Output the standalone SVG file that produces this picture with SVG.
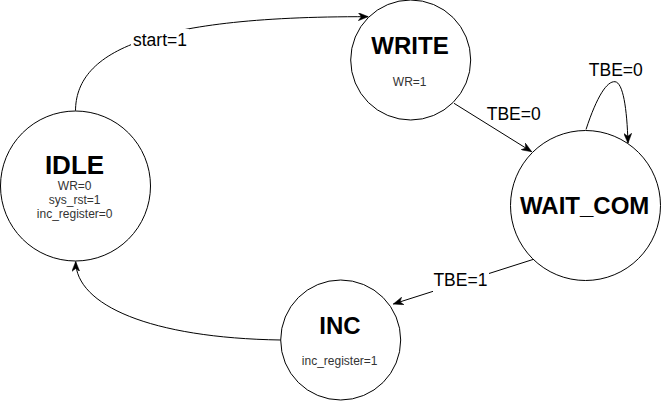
<svg xmlns="http://www.w3.org/2000/svg" width="661" height="401" viewBox="0 0 661 401">
  <style>
    .state { fill: #ffffff; stroke: #000000; stroke-width: 1; }
    .title { font-family: "Liberation Sans", Arial, sans-serif; font-weight: bold; font-size: 24px; fill: #000000; text-anchor: middle; }
    .sub { font-family: "Liberation Sans", Arial, sans-serif; font-size: 12px; fill: #333333; text-anchor: middle; }
    .edge { fill: none; stroke: #000000; stroke-width: 1; marker-end: url(#arrow); }
    .label { font-family: "Liberation Sans", Arial, sans-serif; font-size: 17.5px; fill: #000000; text-anchor: middle; }
    .lblbg { fill: #ffffff; stroke: none; }
  </style>
  <defs>
    <marker id="arrow" markerUnits="userSpaceOnUse" markerWidth="10" markerHeight="8" refX="10" refY="4" orient="auto" viewBox="0 0 10 8">
      <path d="M0,0 L10,4 L0,8 L3,4 z" fill="#000000" stroke="#000000" stroke-width="0.5" stroke-linejoin="miter"/>
    </marker>
  </defs>
  <rect x="0" y="0" width="661" height="401" fill="#ffffff"/>

  <g id="connectors">
    <g id="e-idle-write">
      <path class="edge" d="M75.5,110.7 C76,55 140,16 368.3,16.7"/>
      <rect class="lblbg" x="131" y="29" width="58" height="20"/>
      <text class="label" x="160" y="46">start=1</text>
    </g>
    <g id="e-write-wait">
      <path class="edge" d="M454,103.3 L531.7,151.7"/>
      <text class="label" x="513.7" y="120">TBE=0</text>
    </g>
    <g id="e-wait-self">
      <path class="edge" d="M586,129.5 C597,96 607,81 615,81.7 C623,82.5 627,108 628,143.3"/>
      <text class="label" x="615.8" y="76">TBE=0</text>
    </g>
    <g id="e-wait-inc">
      <path class="edge" d="M536.7,258.3 L393.3,304"/>
      <rect class="lblbg" x="433" y="270" width="56" height="22"/>
      <text class="label" x="460.4" y="286">TBE=1</text>
    </g>
    <g id="e-inc-idle">
      <path class="edge" d="M280.7,340 C150,338 76,305 75.7,261.5"/>
    </g>
  </g>

  <g id="node-idle">
    <circle class="state" cx="75.5" cy="186" r="75"/>
    <text class="title" x="74.5" y="174.3" style="font-size:26px">IDLE</text>
    <text class="sub" x="74.7" y="190">WR=0</text>
    <text class="sub" x="74.7" y="204">sys_rst=1</text>
    <text class="sub" x="74.7" y="218">inc_register=0</text>
  </g>

  <g id="node-write">
    <circle class="state" cx="410.7" cy="60" r="60"/>
    <text class="title" x="410" y="54">WRITE</text>
    <text class="sub" x="409.7" y="86">WR=1</text>
  </g>

  <g id="node-wait-com">
    <circle class="state" cx="585.5" cy="205.5" r="75"/>
    <text class="title" x="584.7" y="214.3">WAIT_COM</text>
  </g>

  <g id="node-inc">
    <circle class="state" cx="340.7" cy="340" r="60"/>
    <text class="title" x="340" y="334">INC</text>
    <text class="sub" x="339.7" y="365">inc_register=1</text>
  </g>
</svg>
